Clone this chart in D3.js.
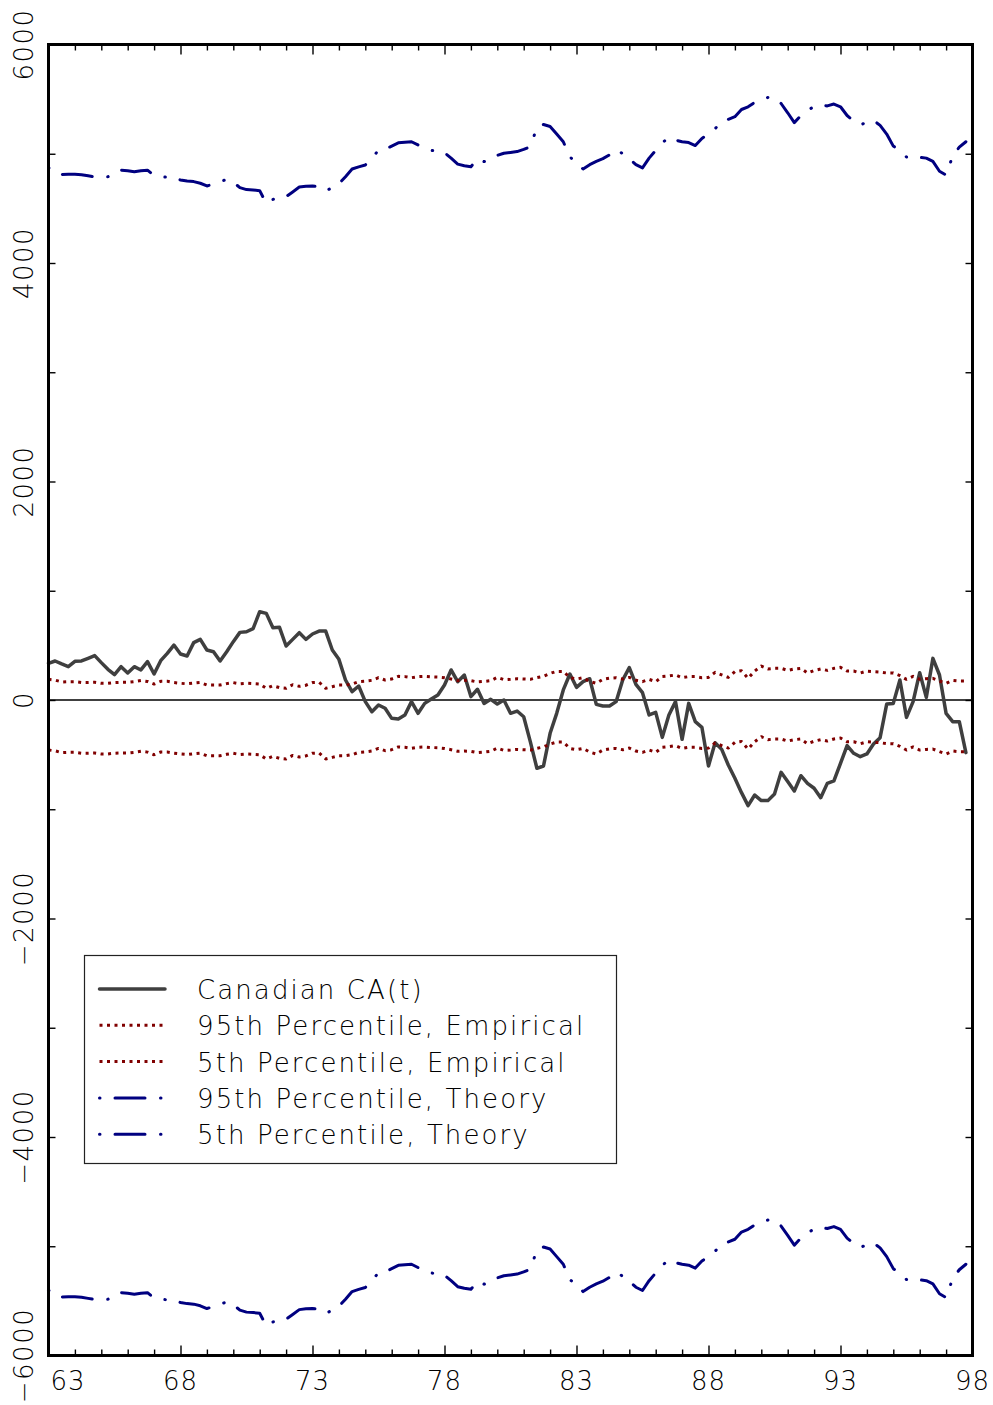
<!DOCTYPE html>
<html>
<head>
<meta charset="utf-8">
<script src="https://d3js.org/d3.v7.min.js"></script>
<style>
  body { margin: 0; background: #fff; }
  svg text { font-family: "DejaVu Sans", sans-serif; font-weight: 200; fill: #000; }
</style>
</head>
<body>
<svg id="chart" width="993" height="1405"></svg>
<script>
// quarterly data, 1963Q1 .. 1997Q4
const startYear = 1963;

const caValues = [
  336, 357, 330, 305, 354, 357, 381, 406, 342, 281, 232, 305, 247, 305, 275, 351,
  238, 360, 427, 503, 421, 403, 525, 555, 458, 442, 357, 442, 534, 619, 625, 653,
  808, 793, 662, 665, 494, 555, 616, 555, 604, 631, 631, 458, 372, 183, 76, 128,
  -15, -107, -46, -76, -168, -174, -137, -15, -122, -31, 9, 46, 137, 275, 168, 229,
  31, 98, -31, 6, -37, 0, -122, -101, -153, -381, -625, -604, -305, -122, 92, 238,
  116, 168, 195, -40, -55, -55, -15, 183, 296, 143, 67, -137, -113, -342, -137, -15,
  -360, -31, -198, -250, -604, -391, -452, -595, -717, -848, -967, -870, -921, -921, -860, -662,
  -747, -833, -693, -763, -808, -894, -763, -741, -580, -418, -488, -519, -494, -403, -345, -37,
  -31, 183, -159, -15, 250, 24, 381, 229, -122, -198, -198, -482
];

const emp95 = [
  189, 182, 165, 168, 168, 160, 160, 162, 153, 153, 160, 162, 162, 168, 178, 170,
  146, 171, 171, 160, 153, 148, 155, 160, 137, 137, 137, 150, 159, 148, 153, 150,
  146, 107, 131, 113, 107, 140, 125, 135, 160, 162, 107, 122, 137, 137, 146, 168,
  172, 180, 204, 183, 192, 217, 214, 204, 214, 217, 212, 210, 204, 192, 177, 180,
  177, 165, 170, 177, 207, 186, 189, 195, 192, 189, 205, 217, 244, 262, 262, 204,
  192, 204, 170, 153, 190, 200, 204, 192, 207, 180, 168, 189, 168, 214, 220, 229,
  204, 214, 214, 204, 207, 253, 230, 207, 259, 268, 198, 265, 311, 284, 290, 290,
  271, 284, 290, 247, 270, 284, 271, 290, 299, 265, 265, 247, 265, 260, 256, 247,
  247, 223, 189, 217, 189, 195, 198, 174, 153, 180, 174, 174
];

const emp5 = [
  -458, -465, -482, -479, -479, -487, -487, -485, -494, -494, -487, -485, -485, -479, -469, -477,
  -501, -476, -476, -487, -494, -499, -492, -487, -510, -510, -510, -497, -488, -499, -494, -497,
  -501, -540, -516, -534, -540, -507, -522, -512, -487, -485, -540, -525, -510, -510, -501, -479,
  -475, -467, -443, -464, -455, -430, -433, -443, -433, -430, -435, -437, -443, -455, -470, -467,
  -470, -482, -477, -470, -440, -461, -458, -452, -455, -458, -442, -430, -403, -385, -385, -443,
  -455, -443, -477, -494, -457, -447, -443, -455, -440, -467, -479, -458, -479, -433, -427, -418,
  -443, -433, -433, -443, -440, -394, -417, -440, -388, -379, -449, -382, -336, -363, -357, -357,
  -376, -363, -357, -400, -377, -363, -376, -357, -348, -382, -382, -400, -382, -387, -391, -400,
  -400, -424, -458, -430, -458, -452, -449, -473, -494, -467, -473, -473
];

const theory95 = [
  4872, 4840, 4810, 4812, 4812, 4808, 4798, 4788, 4790, 4790, 4820, 4850, 4845, 4836, 4845, 4850,
  4800, 4790, 4785, 4780, 4760, 4750, 4745, 4730, 4705, 4722, 4745, 4765, 4740, 4690, 4672, 4668,
  4662, 4546, 4582, 4595, 4607, 4650, 4695, 4702, 4705, 4697, 4660, 4690, 4725, 4790, 4860, 4880,
  4897, 4965, 5030, 5041, 5070, 5100, 5105, 5110, 5080, 5045, 5030, 5025, 5010, 4960, 4905, 4890,
  4881, 4955, 4928, 4955, 4985, 5005, 5012, 5020, 5040, 5064, 5240, 5268, 5250, 5180, 5110, 4970,
  4920, 4860, 4900, 4930, 4955, 4990, 5040, 5000, 4955, 4900, 4870, 4960, 5030, 5100, 5150, 5125,
  5110, 5102, 5075, 5140, 5180, 5230, 5290, 5315, 5339, 5405, 5430, 5470, 5495, 5515, 5510, 5460,
  5375, 5285, 5350, 5400, 5430, 5446, 5438, 5455, 5430, 5350, 5300, 5263, 5290, 5305, 5260, 5180,
  5070, 5030, 4970, 4960, 4967, 4960, 4930, 4840, 4805, 4980, 5060, 5110
];

const theory5 = [
  -5403, -5435, -5465, -5463, -5463, -5467, -5477, -5487, -5485, -5485, -5455, -5425, -5430, -5439, -5430, -5425,
  -5475, -5485, -5490, -5495, -5515, -5525, -5530, -5545, -5570, -5553, -5530, -5510, -5535, -5585, -5603, -5607,
  -5613, -5729, -5693, -5680, -5668, -5625, -5580, -5573, -5570, -5578, -5615, -5585, -5550, -5485, -5415, -5395,
  -5378, -5310, -5245, -5234, -5205, -5175, -5170, -5165, -5195, -5230, -5245, -5250, -5265, -5315, -5370, -5385,
  -5394, -5320, -5347, -5320, -5290, -5270, -5263, -5255, -5235, -5211, -5035, -5007, -5025, -5095, -5165, -5305,
  -5355, -5415, -5375, -5345, -5320, -5285, -5235, -5275, -5320, -5375, -5405, -5315, -5245, -5175, -5125, -5150,
  -5165, -5173, -5200, -5135, -5095, -5045, -4985, -4960, -4936, -4870, -4845, -4805, -4780, -4760, -4765, -4815,
  -4900, -4990, -4925, -4875, -4845, -4829, -4837, -4820, -4845, -4925, -4975, -5012, -4985, -4970, -5015, -5095,
  -5205, -5245, -5305, -5315, -5308, -5315, -5345, -5435, -5470, -5295, -5215, -5165
];

const xTickLabels = ["63", "68", "73", "78", "83", "88", "93", "98"];
const yTickLabels = [-6000, -4000, -2000, 0, 2000, 4000, 6000];
const legendLabels = [
  "Canadian CA(t)",
  "95th Percentile, Empirical",
  "5th Percentile, Empirical",
  "95th Percentile, Theory",
  "5th Percentile, Theory"
];

const quarters = caValues.map((d, i) => startYear + i / 4);

const svg = d3.select("#chart");
const plotLeft = 48.5, plotRight = 972.5, plotTop = 44.5, plotBottom = 1355.5;

const x = d3.scaleLinear().domain([1963, 1998]).range([plotLeft, plotRight]);
const y = d3.scaleLinear().domain([-6000, 6000]).range([plotBottom, plotTop]);

// styles for each series
const styles = [
  { data: caValues, color: "#3f3f3f", width: 3.5, dash: null, cap: "round" },
  { data: emp95, color: "#800000", width: 3, dash: "3 4.5", cap: "butt" },
  { data: emp5, color: "#800000", width: 3, dash: "3 4.5", cap: "butt" },
  { data: theory95, color: "#000080", width: 3, dash: "0.5 15 30 15.5", cap: "round" },
  { data: theory5, color: "#000080", width: 3, dash: "0.5 15 30 15.5", cap: "round" }
];

// ticks
const majorYears = d3.range(1968, 1997, 5);
const minorYears = d3.range(1964, 1998).filter(yr => (yr - 1963) % 5 !== 0);
const yTicks = d3.range(-5000, 6000, 1000);

function tickAxis(axis) {
  return g => {
    g.call(axis);
    g.select(".domain").remove();
    g.selectAll(".tick line").attr("stroke", "#000").attr("stroke-width", 1.4);
    g.selectAll(".tick text").remove();
  };
}

svg.append("g").attr("transform", `translate(0,${plotBottom})`)
  .call(tickAxis(d3.axisBottom(x).tickValues(minorYears).tickSize(-6)));
svg.append("g").attr("transform", `translate(0,${plotBottom})`)
  .call(tickAxis(d3.axisBottom(x).tickValues(majorYears).tickSize(-10)));
svg.append("g").attr("transform", `translate(0,${plotTop})`)
  .call(tickAxis(d3.axisTop(x).tickValues(minorYears).tickSize(-6)));
svg.append("g").attr("transform", `translate(0,${plotTop})`)
  .call(tickAxis(d3.axisTop(x).tickValues(majorYears).tickSize(-10)));
svg.append("g").attr("transform", `translate(${plotLeft},0)`)
  .call(tickAxis(d3.axisLeft(y).tickValues(yTicks).tickSize(-7)));
svg.append("g").attr("transform", `translate(${plotRight},0)`)
  .call(tickAxis(d3.axisRight(y).tickValues(yTicks).tickSize(-7)));

// zero line
svg.append("line")
  .attr("x1", x(1963)).attr("x2", x(1998))
  .attr("y1", y(0)).attr("y2", y(0))
  .attr("stroke", "#000").attr("stroke-width", 1.4);

const line = d3.line()
  .x((d, i) => x(quarters[i]))
  .y(d => y(d));

styles.forEach(s => {
  svg.append("path")
    .datum(s.data)
    .attr("fill", "none")
    .attr("stroke", s.color)
    .attr("stroke-width", s.width)
    .attr("stroke-linejoin", "round")
    .attr("stroke-linecap", s.cap)
    .attr("stroke-dasharray", s.dash)
    .attr("d", line);
});

// frame
svg.append("rect")
  .attr("x", plotLeft).attr("y", plotTop)
  .attr("width", plotRight - plotLeft).attr("height", plotBottom - plotTop)
  .attr("fill", "none").attr("stroke", "#000").attr("stroke-width", 3);

// x labels
svg.selectAll(".xlab")
  .data(xTickLabels)
  .join("text")
  .attr("class", "xlab")
  .attr("x", (d, i) => i === 0 ? x(1963) + 2 : x(1963 + i * 5))
  .attr("y", 1390)
  .attr("text-anchor", (d, i) => i === 0 ? "start" : "middle")
  .attr("font-size", 26)
  .attr("letter-spacing", 1)
  .text(d => d);

// y labels, rotated
svg.selectAll(".ylab")
  .data(yTickLabels)
  .join("text")
  .attr("class", "ylab")
  .attr("transform", d => `translate(24,${y(d)}) rotate(-90)`)
  .attr("text-anchor", "middle")
  .attr("dominant-baseline", "central")
  .attr("font-size", 26)
  .attr("letter-spacing", 1.5)
  .text(d => d < 0 ? "\u2212" + Math.abs(d) : d);

// legend
const legend = svg.append("g");
legend.append("rect")
  .attr("x", 84.5).attr("y", 955.5)
  .attr("width", 532).attr("height", 208)
  .attr("fill", "#fff").attr("stroke", "#222").attr("stroke-width", 1.2);

legendLabels.forEach((label, i) => {
  const ly = 989 + i * 36.3;
  const s = styles[i];
  legend.append("path")
    .attr("d", `M99.5,${ly}H165`)
    .attr("fill", "none")
    .attr("stroke", s.color)
    .attr("stroke-width", s.width)
    .attr("stroke-linecap", s.cap)
    .attr("stroke-dasharray", s.dash);
  legend.append("text")
    .attr("x", 197)
    .attr("y", ly + 10)
    .attr("font-size", 26)
    .attr("letter-spacing", 2.1)
    .text(label);
});
</script>
</body>
</html>
